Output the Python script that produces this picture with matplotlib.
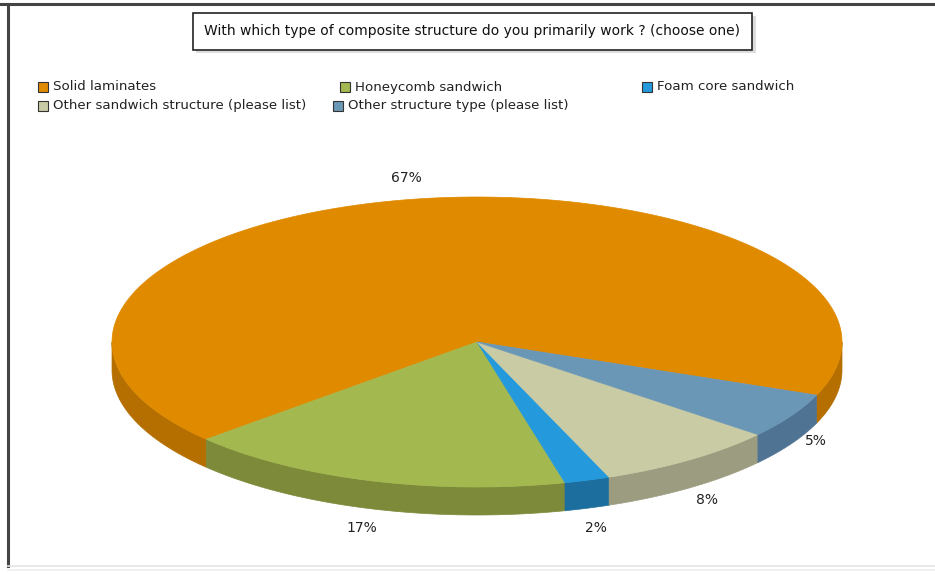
import numpy as np
import matplotlib.pyplot as plt
from matplotlib.patches import Polygon, Rectangle

title = "With which type of composite structure do you primarily work ? (choose one)"
categories = ["Solid laminates", "Honeycomb sandwich", "Foam core sandwich",
              "Other sandwich structure (please list)", "Other structure type (please list)"]
values = [67, 17, 2, 8, 5]
top_colors = ["#E08A00", "#A3B84F", "#2499DB", "#C9CBA4", "#6A97B6"]
side_colors = ["#B56F00", "#7C8A3A", "#1C6E9F", "#9C9D80", "#4F7392"]

W, H = 935, 577
cx, cy = 477, 342      # centre of the top face
ra, rb = 365, 145      # ellipse semi-axes
depth = 28
start = 338.5          # angle where the first slice begins


def arc(t1, t2, dy=0.0, n=200):
    t = np.radians(np.linspace(t1, t2, n))
    return np.column_stack([cx + ra * np.cos(t), cy - rb * np.sin(t) + dy])


fig = plt.figure(figsize=(W / 100, H / 100), dpi=100)
ax = fig.add_axes([0, 0, 1, 1])
ax.set_xlim(0, W)
ax.set_ylim(H, 0)
ax.axis("off")

# frame around the chart
ax.plot([0, W], [4, 4], color="#444444", lw=2.2)
ax.plot([7.5, 7.5], [4, 566], color="#444444", lw=2.2)
ax.plot([8, W], [566, 566], color="#e4e4e4", lw=1.2)
ax.plot([8, W], [570, 570], color="#eeeeee", lw=1.2)

# title box with a soft shadow
ax.add_patch(Rectangle((196, 16), 560, 37, facecolor="#dddddd", edgecolor="none"))
ax.add_patch(Rectangle((193, 13), 559, 37, facecolor="white", edgecolor="#222222", lw=1.2))
ax.text(472, 31.5, title, ha="center", va="center", fontsize=10, color="#111111")

# legend
legend_pos = [(38, 87), (340, 87), (642, 87), (38, 106), (333, 106)]
for (lx, ly), name, col in zip(legend_pos, categories, top_colors):
    ax.add_patch(Rectangle((lx, ly - 5), 10, 10, facecolor=col, edgecolor="#333333", lw=0.8))
    ax.text(lx + 15, ly, name, ha="left", va="center", fontsize=9.6, color="#222222")

# slice angles from the values
frac = np.array(values) / sum(values)
edges = start + 360 * np.concatenate([[0], np.cumsum(frac)])

# outer walls on the front half first
for i in range(len(values)):
    t1, t2 = edges[i], edges[i + 1]
    for k in range(-1, 3):
        lo, hi = max(t1, 180 + 360 * k), min(t2, 360 + 360 * k)
        if hi > lo:
            upper = arc(lo, hi)
            lower = arc(hi, lo, dy=depth)
            ax.add_patch(Polygon(np.vstack([upper, lower]), closed=True,
                                 facecolor=side_colors[i], edgecolor=side_colors[i], lw=0.5))

# top faces
for i in range(len(values)):
    pts = np.vstack([[cx, cy], arc(edges[i], edges[i + 1])])
    ax.add_patch(Polygon(pts, closed=True, facecolor=top_colors[i],
                         edgecolor=top_colors[i], lw=0.5))

# percentage labels outside each slice
for i, v in enumerate(values):
    mid = np.radians((edges[i] + edges[i + 1]) / 2)
    s = np.sin(mid)
    lx = cx + ra * 1.08 * np.cos(mid)
    ly = cy - s * (rb * 1.15 + (depth if s < 0 else 0))
    ax.text(lx, ly, f"{v}%", ha="center", va="center", fontsize=10, color="#222222")

fig.savefig("out.png", dpi=100, facecolor="white")
